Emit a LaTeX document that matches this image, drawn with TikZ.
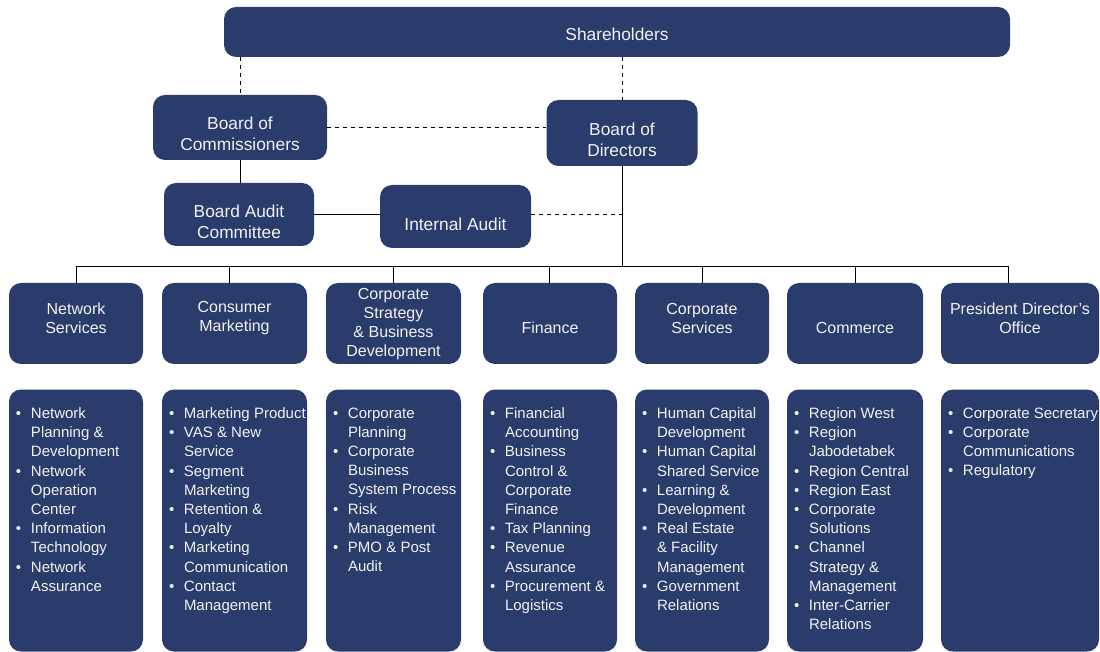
\documentclass[tikz,border=0pt]{standalone}
\usepackage{fontspec}
\setmainfont{Liberation Sans}
\usetikzlibrary{positioning,calc}
\definecolor{navy}{HTML}{2A3C6B}
\definecolor{txt}{HTML}{F2F2F2}
\newcommand{\bu}{\makebox[11.25pt][l]{\textbullet}}
\newcommand{\nb}{\hspace*{11.25pt}}

\begin{document}
\begin{tikzpicture}[x=0.75pt,y=-0.75pt,
  box/.style={fill=navy,rounded corners=9pt,inner sep=0pt},
  sz/.style 2 args={minimum width=#1*0.75pt,minimum height=#2*0.75pt},
  ttl/.style={text=txt,align=center,font=\fontsize{13}{15.75}\selectfont,inner sep=0pt},
  hd/.style={text=txt,align=center,font=\fontsize{12}{14.25}\selectfont,inner sep=0pt},
  lst/.style={text=txt,align=left,font=\fontsize{11.25}{14.4}\selectfont,inner sep=0pt,
    anchor=north west,xshift=5.25pt,yshift=-13.5pt},
  ln/.style={line width=0.7pt},
  dsh/.style={line width=0.7pt,dash pattern=on 3pt off 3pt}]
  \useasboundingbox (0,0) rectangle (1100,652);

  % governance
  \node[box,sz={786}{50},label={[ttl,yshift=-1.5pt]center:Shareholders}] (sh) at (617,32) {};
  \node[box,sz={174}{65},label={[ttl,yshift=-4.5pt]center:{Board of\\Commissioners}}] (boc) at (240,127.5) {};
  \node[box,sz={151}{66},label={[ttl,yshift=-5.25pt]center:{Board of\\Directors}}] (bod) at (622,133) {};
  \node[box,sz={150}{63},label={[ttl,yshift=-5.25pt]center:{Board Audit\\Committee}}] (bac) at (239,214.5) {};
  \node[box,sz={151}{63},label={[ttl,yshift=-5.5pt]center:Internal Audit}] (ia) at (455.5,216.5) {};
  \coordinate (bus) at (bod.south |- 0,266);

  \draw[dsh] (sh.south -| boc.north) -- (boc.north);
  \draw[dsh] (sh.south -| bod.north) -- (bod.north);
  \draw[dsh] (boc.east) -- (boc.east -| bod.west);
  \draw[ln] (boc.south) -- (boc.south |- bac.north);
  \draw[ln] (bac.east) -- (bac.east -| ia.west);
  \draw[dsh] (bac.east -| ia.east) -- (bac.east -| bod.south);
  \draw[ln] (bod.south) -- (bus);

  % directorates and their units
  \foreach \nm/\cx/\w/\dx/\dy/\hd/\items in {
    ns/76/134/76/3.75/{Network\\Services}/{\bu Network\\\nb Planning \&\\\nb Development\\\bu Network\\\nb Operation\\\nb Center\\\bu Information\\\nb Technology\\\bu Network\\\nb Assurance},
    cm/234.5/145/229/3.75/{Consumer\\Marketing}/{\bu Marketing Product\\\bu VAS \& New\\\nb Service\\\bu Segment\\\nb Marketing\\\bu Retention \&\\\nb Loyalty\\\bu Marketing\\\nb Communication\\\bu Contact\\\nb Management},
    csbd/393.5/135/393/-0.75/{Corporate\\Strategy\\\& Business\\Development}/{\bu Corporate\\\nb Planning\\\bu Corporate\\\nb Business\\\nb System Process\\\bu Risk\\\nb Management\\\bu PMO \& Post\\\nb Audit},
    fin/550/134/549/-3.4/{Finance}/{\bu Financial\\\nb Accounting\\\bu Business\\\nb Control \&\\\nb Corporate\\\nb Finance\\\bu Tax Planning\\\bu Revenue\\\nb Assurance\\\bu Procurement \&\\\nb Logistics},
    cs/702/134/702/3.75/{Corporate\\Services}/{\bu Human Capital\\\nb Development\\\bu Human Capital\\\nb Shared Service\\\bu Learning \&\\\nb Development\\\bu Real Estate\\\nb \& Facility\\\nb Management\\\bu Government\\\nb Relations},
    com/855/136/855/-3.4/{Commerce}/{\bu Region West\\\bu Region\\\nb Jabodetabek\\\bu Region Central\\\bu Region East\\\bu Corporate\\\nb Solutions\\\bu Channel\\\nb Strategy \&\\\nb Management\\\bu Inter-Carrier\\\nb Relations},
    pdo/1020/158/1008/3.75/{President Director's\\Office}/{\bu Corporate Secretary\\\bu Corporate\\\nb Communications\\\bu Regulatory}} {
    \node[box,sz={\w}{81},label={[hd,yshift=\dy pt]center:\hd}] (\nm) at (\cx,323.5) {};
    \node[box,sz={\w}{262},below=18.75pt of \nm,label={[lst]north west:\items}] (\nm-l) {};
    \coordinate (\nm-up) at (\dx,266);
    \draw[ln] (\nm-up) -- (\nm.north -| \nm-up);
  }
  \draw[ln] (ns-up) -- (pdo-up);
\end{tikzpicture}
\end{document}
